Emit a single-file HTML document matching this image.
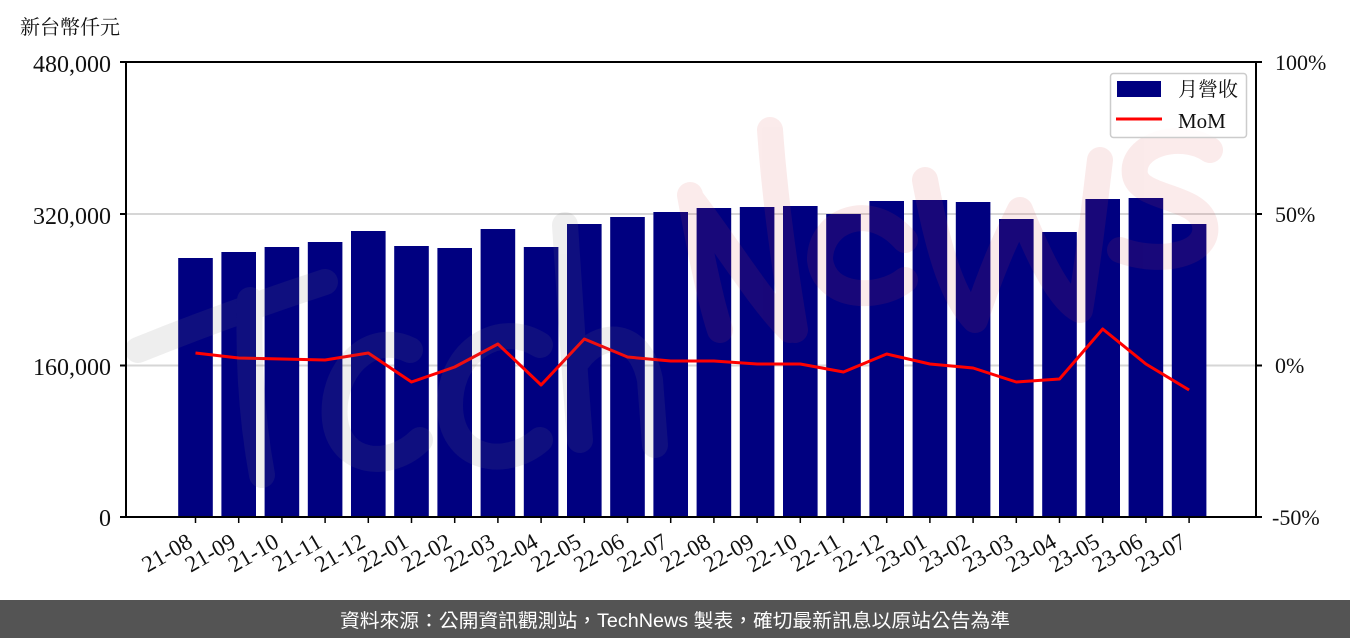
<!DOCTYPE html>
<html><head><meta charset="utf-8"><style>
html,body{margin:0;padding:0;background:#fff;}
svg{display:block;}
.ax{font-family:"Liberation Serif","Noto Serif CJK SC",serif;font-size:22px;fill:#111;}
.axl{font-family:"Liberation Serif","Noto Serif CJK SC",serif;font-size:24px;fill:#111;}
.axt{font-family:"Liberation Serif","Noto Serif CJK SC",serif;font-size:23px;fill:#111;}
.cj{font-family:"Liberation Serif","Noto Serif CJK SC","Noto Sans CJK TC",serif;font-size:20px;fill:#111;}
</style></head><body>
<svg width="1350" height="638" viewBox="0 0 1350 638" xmlns="http://www.w3.org/2000/svg">
<rect x="0" y="0" width="1350" height="638" fill="#fff"/>
<!-- grid -->
<line x1="126" y1="214" x2="1256" y2="214" stroke="#d6d6d6" stroke-width="2"/>
<line x1="126" y1="365.5" x2="1256" y2="365.5" stroke="#d6d6d6" stroke-width="2"/>
<!-- bars -->
<g fill="#000080">
<rect x="178.2" y="258" width="34.6" height="259"/>
<rect x="221.4" y="252" width="34.6" height="265"/>
<rect x="264.6" y="247" width="34.6" height="270"/>
<rect x="307.8" y="242" width="34.6" height="275"/>
<rect x="351.0" y="231" width="34.6" height="286"/>
<rect x="394.2" y="246" width="34.6" height="271"/>
<rect x="437.4" y="248" width="34.6" height="269"/>
<rect x="480.6" y="229" width="34.6" height="288"/>
<rect x="523.8" y="247" width="34.6" height="270"/>
<rect x="567.0" y="224" width="34.6" height="293"/>
<rect x="610.2" y="217" width="34.6" height="300"/>
<rect x="653.4" y="212" width="34.6" height="305"/>
<rect x="696.6" y="208" width="34.6" height="309"/>
<rect x="739.8" y="207" width="34.6" height="310"/>
<rect x="783.0" y="206" width="34.6" height="311"/>
<rect x="826.2" y="214" width="34.6" height="303"/>
<rect x="869.4" y="201" width="34.6" height="316"/>
<rect x="912.6" y="200" width="34.6" height="317"/>
<rect x="955.8" y="202" width="34.6" height="315"/>
<rect x="999.0" y="219" width="34.6" height="298"/>
<rect x="1042.2" y="232" width="34.6" height="285"/>
<rect x="1085.4" y="199" width="34.6" height="318"/>
<rect x="1128.6" y="198" width="34.6" height="319"/>
<rect x="1171.8" y="224" width="34.6" height="293"/>
</g>
<!-- line -->
<polyline fill="none" stroke="#ff0000" stroke-width="3" stroke-linejoin="round" points="195.5,353 238.7,358 281.9,359 325.1,360 368.3,353 411.5,382 454.7,367 497.9,344 541.1,385 584.3,339 627.5,357 670.7,361 713.9,361 757.1,364 800.3,364 843.5,372 886.7,354 929.9,364 973.1,368 1016.3,382 1059.5,379 1102.7,329 1145.9,364 1189.1,390"/>
<!-- watermark -->
<g fill="none" stroke-linecap="round" stroke-linejoin="round" stroke-width="26">
<g stroke="rgb(120,120,120)" opacity="0.12">
<path d="M138,350 C200,325 270,300 325,282"/>
<path d="M250,300 C248,360 252,420 262,475"/>
<path d="M410,350 C370,330 330,370 335,420 C340,465 390,470 420,440"/>
<path d="M540,345 C500,320 450,350 450,405 C450,460 505,470 540,440"/>
<path d="M565,225 C570,300 575,380 580,440 M578,360 C600,330 640,330 650,380 L655,445"/>
</g>
<g stroke="rgb(215,70,70)" opacity="0.11">
<path d="M690,195 C700,250 710,300 720,330 M692,200 C730,250 760,300 790,330 M770,130 C775,200 785,270 795,330"/>
<path d="M905,240 C870,200 820,220 820,260 C825,300 880,300 905,280"/>
<path d="M925,180 C940,260 955,300 975,320 C995,260 1010,230 1020,210 C1040,260 1060,300 1080,310 C1090,250 1095,200 1100,160"/>
<path d="M1210,150 C1180,130 1130,145 1135,175 C1140,200 1200,195 1205,225 C1210,255 1160,265 1120,250"/>
</g>
</g>
<!-- spines -->
<rect x="126" y="62" width="1130" height="455" fill="none" stroke="#000" stroke-width="2"/>
<!-- ticks -->
<g stroke="#000" stroke-width="2">
<line x1="120" y1="62" x2="126" y2="62"/>
<line x1="120" y1="214" x2="126" y2="214"/>
<line x1="120" y1="365.5" x2="126" y2="365.5"/>
<line x1="120" y1="517" x2="126" y2="517"/>
<line x1="1256" y1="62" x2="1262" y2="62"/>
<line x1="1256" y1="214" x2="1262" y2="214"/>
<line x1="1256" y1="365.5" x2="1262" y2="365.5"/>
<line x1="1256" y1="517" x2="1262" y2="517"/>
</g>
<g stroke="#000" stroke-width="1.5">
<line x1="195.5" y1="517" x2="195.5" y2="523"/><line x1="238.7" y1="517" x2="238.7" y2="523"/><line x1="281.9" y1="517" x2="281.9" y2="523"/><line x1="325.1" y1="517" x2="325.1" y2="523"/><line x1="368.3" y1="517" x2="368.3" y2="523"/><line x1="411.5" y1="517" x2="411.5" y2="523"/><line x1="454.7" y1="517" x2="454.7" y2="523"/><line x1="497.9" y1="517" x2="497.9" y2="523"/><line x1="541.1" y1="517" x2="541.1" y2="523"/><line x1="584.3" y1="517" x2="584.3" y2="523"/><line x1="627.5" y1="517" x2="627.5" y2="523"/><line x1="670.7" y1="517" x2="670.7" y2="523"/><line x1="713.9" y1="517" x2="713.9" y2="523"/><line x1="757.1" y1="517" x2="757.1" y2="523"/><line x1="800.3" y1="517" x2="800.3" y2="523"/><line x1="843.5" y1="517" x2="843.5" y2="523"/><line x1="886.7" y1="517" x2="886.7" y2="523"/><line x1="929.9" y1="517" x2="929.9" y2="523"/><line x1="973.1" y1="517" x2="973.1" y2="523"/><line x1="1016.3" y1="517" x2="1016.3" y2="523"/><line x1="1059.5" y1="517" x2="1059.5" y2="523"/><line x1="1102.7" y1="517" x2="1102.7" y2="523"/><line x1="1145.9" y1="517" x2="1145.9" y2="523"/><line x1="1189.1" y1="517" x2="1189.1" y2="523"/>
</g>
<!-- y labels -->
<g class="axl" text-anchor="end">
<text x="111" y="72">480,000</text>
<text x="111" y="224">320,000</text>
<text x="111" y="375">160,000</text>
<text x="111" y="526">0</text>
</g>
<g class="ax" text-anchor="start">
<text x="1275" y="70">100%</text>
<text x="1275" y="222">50%</text>
<text x="1275" y="373">0%</text>
<text x="1272" y="525">-50%</text>
</g>
<text class="cj" x="20" y="34">新台幣仟元</text>
<!-- x labels -->
<g class="axt" text-anchor="end">
<text transform="translate(194,546) rotate(-30)">21-08</text>
<text transform="translate(237.2,546) rotate(-30)">21-09</text>
<text transform="translate(280.4,546) rotate(-30)">21-10</text>
<text transform="translate(323.6,546) rotate(-30)">21-11</text>
<text transform="translate(366.8,546) rotate(-30)">21-12</text>
<text transform="translate(410,546) rotate(-30)">22-01</text>
<text transform="translate(453.2,546) rotate(-30)">22-02</text>
<text transform="translate(496.4,546) rotate(-30)">22-03</text>
<text transform="translate(539.6,546) rotate(-30)">22-04</text>
<text transform="translate(582.8,546) rotate(-30)">22-05</text>
<text transform="translate(626,546) rotate(-30)">22-06</text>
<text transform="translate(669.2,546) rotate(-30)">22-07</text>
<text transform="translate(712.4,546) rotate(-30)">22-08</text>
<text transform="translate(755.6,546) rotate(-30)">22-09</text>
<text transform="translate(798.8,546) rotate(-30)">22-10</text>
<text transform="translate(842,546) rotate(-30)">22-11</text>
<text transform="translate(885.2,546) rotate(-30)">22-12</text>
<text transform="translate(928.4,546) rotate(-30)">23-01</text>
<text transform="translate(971.6,546) rotate(-30)">23-02</text>
<text transform="translate(1014.8,546) rotate(-30)">23-03</text>
<text transform="translate(1058,546) rotate(-30)">23-04</text>
<text transform="translate(1101.2,546) rotate(-30)">23-05</text>
<text transform="translate(1144.4,546) rotate(-30)">23-06</text>
<text transform="translate(1187.6,546) rotate(-30)">23-07</text>
</g>
<!-- legend -->
<rect x="1110.5" y="73.5" width="136" height="64" rx="3" ry="3" fill="#fff" fill-opacity="0.85" stroke="#cccccc" stroke-width="1.5"/>
<rect x="1117" y="81" width="44" height="16" fill="#000080"/>
<line x1="1116" y1="119" x2="1162" y2="119" stroke="#ff0000" stroke-width="3"/>
<text class="cj" x="1178" y="96">月營收</text>
<text class="ax" x="1178" y="128" style="font-size:21px">MoM</text>
<!-- footer -->
<rect x="0" y="600" width="1350" height="38" fill="#545454"/>
<text x="675" y="627" text-anchor="middle" textLength="670" lengthAdjust="spacingAndGlyphs" style="font-family:'Liberation Sans','Noto Sans CJK TC',sans-serif;font-size:19px;fill:#fff;">資料來源：公開資訊觀測站，TechNews 製表，確切最新訊息以原站公告為準</text>
</svg>
</body></html>
